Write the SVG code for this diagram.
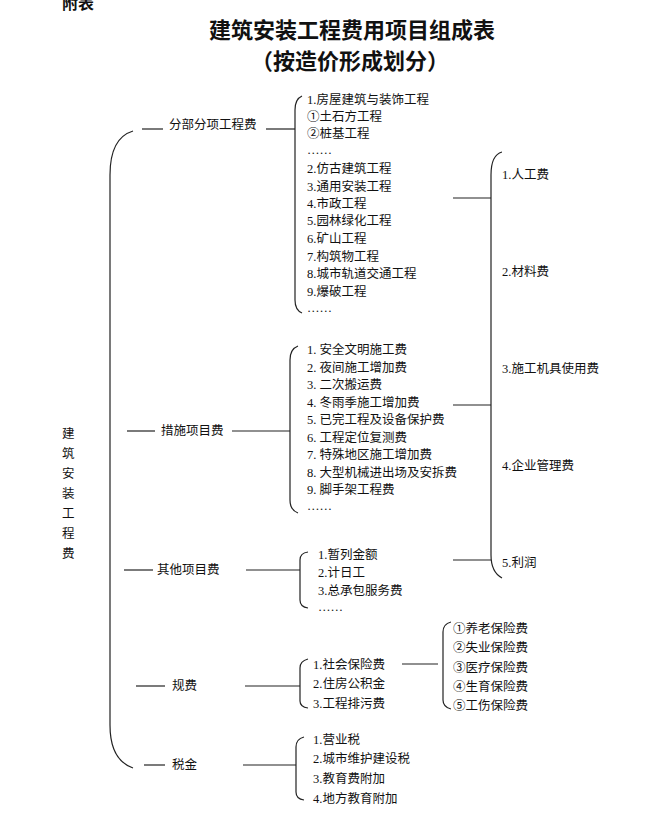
<svg xmlns="http://www.w3.org/2000/svg" width="653" height="823" viewBox="0 0 653 823">
<style>
text{font-family:"Liberation Serif","Noto Sans CJK SC",serif;fill:#111;font-size:12.5px;dominant-baseline:central}
.t{font-size:22px;font-weight:bold;text-anchor:middle}
.b{fill:none;stroke:#222;stroke-width:1.2}
line{stroke:#222;stroke-width:1.2}
</style>
<rect width="653" height="823" fill="#fff"/>
<g id="title">
<text x="62" y="3" style="font-size:16px;font-weight:bold">附表</text>
<text class="t" x="352" y="30">建筑安装工程费用项目组成表</text>
<text class="t" x="350" y="61">（按造价形成划分）</text>
</g>
<g id="root">
<text x="62" y="434">建</text><text x="62" y="454">筑</text><text x="62" y="474">安</text><text x="62" y="494">装</text><text x="62" y="514">工</text><text x="62" y="534">程</text><text x="62" y="554">费</text>
</g>
<g id="connectors">
<path class="b" d="M133,131 Q110,138 110,175 L110,725 Q110,760 133,768"/>
<line x1="142" y1="129" x2="163" y2="129"/><line x1="266" y1="129" x2="295" y2="129"/>
<path class="b" d="M302,96 Q295,99 295,110 L295,300 Q295,310 302,313"/>
<line x1="127" y1="431" x2="155" y2="431"/><line x1="232" y1="431" x2="290" y2="431"/>
<path class="b" d="M298,346 Q290,349 290,360 L290,500 Q290,510 298,513"/>
<line x1="124" y1="570" x2="153" y2="570"/><line x1="246" y1="570" x2="300" y2="570"/>
<path class="b" d="M308,552 Q300,553 300,560 L300,600 Q300,607 308,608"/>
<line x1="136" y1="686" x2="165" y2="686"/><line x1="245" y1="686" x2="300" y2="686"/>
<path class="b" d="M308,659 Q300,661 300,668 L300,701 Q300,707 308,708"/>
<line x1="402" y1="664" x2="438" y2="664"/>
<path class="b" d="M451,622 Q443,624 443,632 L443,700 Q443,707 451,709"/>
<line x1="144" y1="765" x2="165" y2="765"/><line x1="243" y1="765" x2="296" y2="765"/>
<path class="b" d="M304,737 Q296,739 296,747 L296,792 Q296,799 304,800"/>
<line x1="453" y1="198" x2="491" y2="198"/><line x1="453" y1="405" x2="491" y2="405"/><line x1="453" y1="560" x2="491" y2="560"/>
<path class="b" d="M502,152 Q491,155 491,175 L491,555 Q491,572 502,578"/>
</g>
<g id="n1">
<text x="169" y="125">分部分项工程费</text>
<text x="307" y="100">1.房屋建筑与装饰工程</text><text x="307" y="117">①土石方工程</text><text x="307" y="134">②桩基工程</text><text x="307" y="150">……</text>
<text x="307" y="169">2.仿古建筑工程</text><text x="307" y="187">3.通用安装工程</text><text x="307" y="204">4.市政工程</text><text x="307" y="221">5.园林绿化工程</text><text x="307" y="239">6.矿山工程</text><text x="307" y="257">7.构筑物工程</text><text x="307" y="274">8.城市轨道交通工程</text><text x="307" y="292">9.爆破工程</text><text x="307" y="308">……</text>
</g>
<g id="n2">
<text x="161" y="431">措施项目费</text>
<text x="307" y="350">1.  安全文明施工费</text><text x="307" y="368">2.  夜间施工增加费</text><text x="307" y="385">3.  二次搬运费</text><text x="307" y="403">4.  冬雨季施工增加费</text><text x="307" y="420">5.  已完工程及设备保护费</text><text x="307" y="438">6.  工程定位复测费</text><text x="307" y="455">7.  特殊地区施工增加费</text><text x="307" y="473">8. 大型机械进出场及安拆费</text><text x="307" y="490">9.  脚手架工程费</text><text x="307" y="506">……</text>
</g>
<g id="n3">
<text x="157" y="570">其他项目费</text>
<text x="318" y="555">1.暂列金额</text><text x="318" y="573">2.计日工</text><text x="318" y="591">3.总承包服务费</text><text x="318" y="607">……</text>
</g>
<g id="n4">
<text x="172" y="686">规费</text>
<text x="313" y="665">1.社会保险费</text><text x="313" y="684">2.住房公积金</text><text x="313" y="704">3.工程排污费</text>
<text x="453" y="629">①养老保险费</text><text x="453" y="648">②失业保险费</text><text x="453" y="668">③医疗保险费</text><text x="453" y="687">④生育保险费</text><text x="453" y="706">⑤工伤保险费</text>
</g>
<g id="n5">
<text x="172" y="765">税金</text>
<text x="313" y="740">1.营业税</text><text x="313" y="759">2.城市维护建设税</text><text x="313" y="779">3.教育费附加</text><text x="313" y="799">4.地方教育附加</text>
</g>
<g id="n6">
<text x="502" y="175">1.人工费</text><text x="502" y="272">2.材料费</text><text x="502" y="369">3.施工机具使用费</text><text x="502" y="466">4.企业管理费</text><text x="502" y="563">5.利润</text>
</g>
</svg>
